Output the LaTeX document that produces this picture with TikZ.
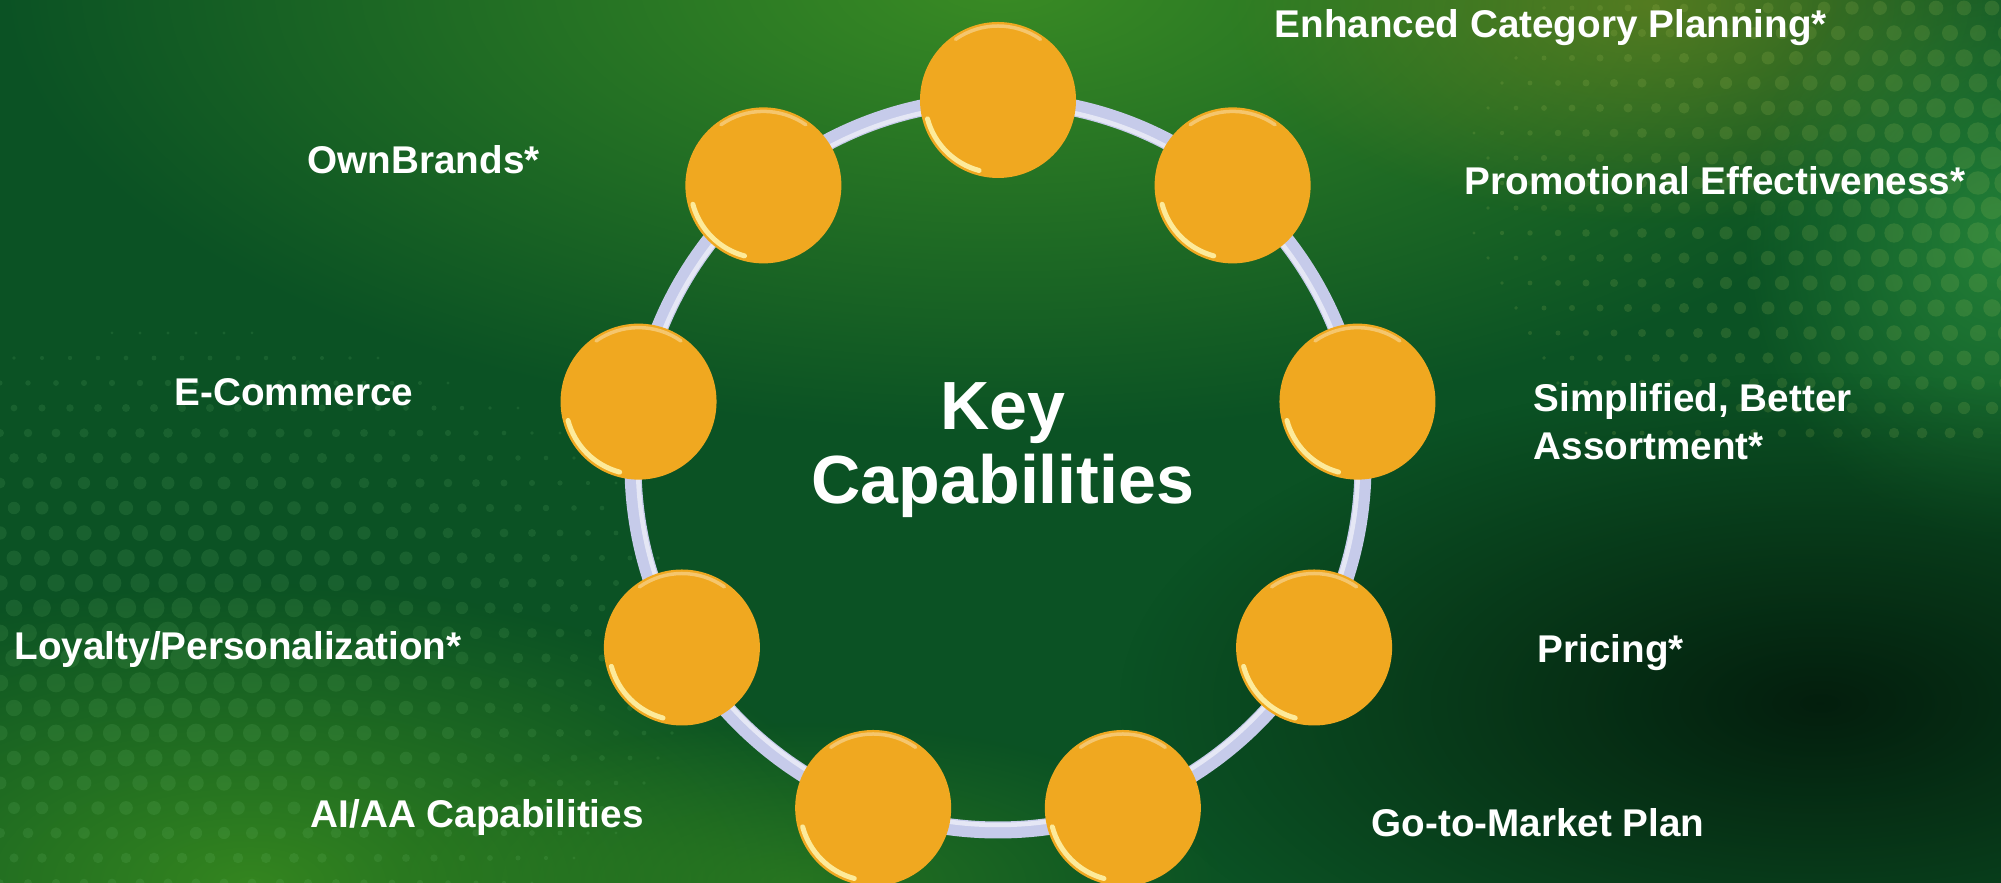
\documentclass[tikz,border=0pt]{standalone}
\usepackage{fontspec}
\setmainfont{Liberation Sans}
\usetikzlibrary{fadings}
\definecolor{Forest}{HTML}{0B5224}
\definecolor{Leaf}{HTML}{3F9224}
\definecolor{Olive}{HTML}{7A8A1E}
\definecolor{Fern}{HTML}{2E9440}
\definecolor{Pine}{HTML}{03190B}
\definecolor{Moss}{HTML}{3E921E}
\definecolor{Speck}{HTML}{7CCB7E}
\definecolor{Pollen}{HTML}{B4CC62}
\definecolor{Lavender}{HTML}{C6CBEA}
\definecolor{Amber}{HTML}{F0A820}
\definecolor{Glint}{HTML}{FFF2A8}
\tikzfading[name=glowfade, inner color=transparent!0, outer color=transparent!100]
\tikzset{
  capability/.style={
    circle, fill=Amber, minimum size=15.6mm, inner sep=0pt
  },
  glint/.style={draw=Glint, line width=0.5mm, line cap=round, opacity=0.9},
  rim/.style={draw=white, line width=0.35mm, line cap=round, opacity=0.35},
  ring/.style={draw=Lavender, line width=1.7mm},
  ringshine/.style={draw=white, line width=0.45mm, opacity=0.55},
  label/.style={
    text=white, font=\bfseries\fontsize{11pt}{13.7pt}\selectfont,
    inner sep=0pt, anchor=base west, align=left
  },
  title/.style={
    text=white, font=\bfseries\fontsize{19.4pt}{21.1pt}\selectfont,
    inner sep=0pt, align=center
  },
  glow/.style={path fading=glowfade},
  speck/.style={fill=Speck, fill opacity=0.13},
  pollen/.style={fill=Pollen, fill opacity=0.15}
}

\begin{document}
\begin{tikzpicture}[x=0.1mm,y=0.1mm]
  \useasboundingbox (0,0) rectangle (2001,883);
  % background
  \fill[Forest] (0,0) rectangle (2001,883);
  \begin{scope}
    \clip (0,0) rectangle (2001,883);
    \fill[Leaf,glow,fill opacity=0.9] (1000,900) ellipse (1000 and 450);
    \fill[Olive,glow,fill opacity=0.6] (1650,880) ellipse (420 and 220);
    \fill[Fern,glow,fill opacity=0.7] (2001,640) ellipse (260 and 300);
    \fill[Moss,glow,fill opacity=0.8] (250,0) ellipse (620 and 300);
    \fill[Moss,glow,fill opacity=0.5] (800,0) ellipse (420 and 160);
    \fill[Pine,glow,fill opacity=0.9] (1820,180) ellipse (700 and 330);
    % halftone dots
    \foreach \i in {0,...,32}{
      \foreach \j in {0,...,25}{
        \pgfmathsetmacro\dx{\i*28+14*mod(\j,2)}
        \pgfmathsetmacro\dy{\j*25}
        \pgfmathsetmacro\dr{12-veclen((\dx-180)*0.8,(\dy-230)*1.3)/40}
        \ifdim\dr pt>1.5pt \fill[speck] (\dx,\dy) circle (\dr); \fi
      }
    }
    \foreach \i in {0,...,27}{
      \foreach \j in {0,...,17}{
        \pgfmathsetmacro\dx{1250+\i*28+14*mod(\j,2)}
        \pgfmathsetmacro\dy{450+\j*25}
        \pgfmathsetmacro\dr{12-veclen(\dx-1990,(\dy-700)*1.3)/50}
        \ifdim\dr pt>1.5pt \fill[pollen] (\dx,\dy) circle (\dr); \fi
      }
    }
  \end{scope}

  % ring of capabilities
  \coordinate (ring) at (998,418);
  \draw[ring] (ring) circle (365);
  \draw[ringshine] (ring) circle (360);
  \foreach \k/\a in {1/90,2/50,3/10,4/-30,5/-70,6/-110,7/-150,8/170,9/130}{
    \node[capability] (cap\k) at ([shift={(\a:365)}]ring) {};
    \draw[glint] (cap\k.center) ++(195:73) arc[start angle=195,end angle=255,radius=73];
    \draw[rim] (cap\k.center) ++(55:74) arc[start angle=55,end angle=125,radius=74];
  }

  \node[title] (key) at (1003,433) {Key\\Capabilities};

  % labels
  \node[label] (category) at (1274,845) {Enhanced Category Planning*};
  \node[label] (promo) at (1464,688) {Promotional Effectiveness*};
  \node[label] (assort) at (1533,423) {Simplified, Better\\Assortment*};
  \node[label] (pricing) at (1537,220) {Pricing*};
  \node[label] (gtm) at (1371,46) {Go-to-Market Plan};
  \node[label] (aiaa) at (310,55) {AI/AA Capabilities};
  \node[label] (loyalty) at (14,223) {Loyalty/Personalization*};
  \node[label] (ecom) at (174,477) {E-Commerce};
  \node[label] (brands) at (307,709) {OwnBrands*};
\end{tikzpicture}
\end{document}
